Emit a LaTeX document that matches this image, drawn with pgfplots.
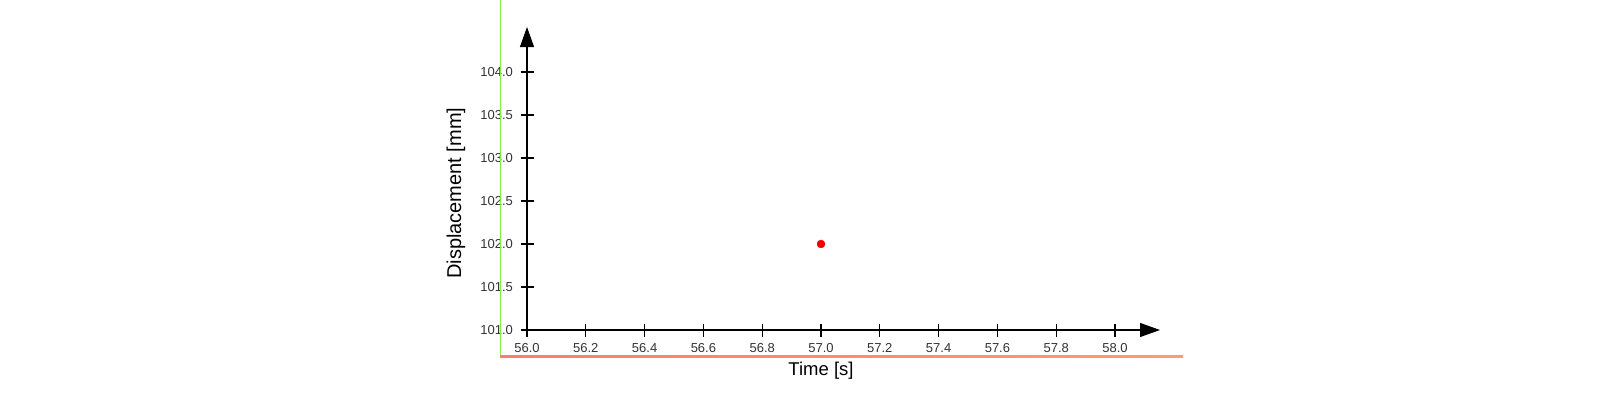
\documentclass[border=0pt]{standalone}
\usepackage{fontspec}
\setmainfont{Liberation Sans}
\usepackage{pgfplots}
\pgfplotsset{compat=1.18}
\usetikzlibrary{arrows.meta}
\definecolor{frameGreen}{RGB}{128,240,64}
\definecolor{frameRed}{RGB}{255,125,105}
\definecolor{frameOrange}{RGB}{255,155,115}
\definecolor{labGray}{RGB}{51,51,51}
\definecolor{ptRed}{RGB}{245,0,0}

\begin{document}
\begin{tikzpicture}
\useasboundingbox (0,0) rectangle (1600pt,400pt);
\begin{axis}[
  at={(527pt,70pt)}, anchor=south west,
  scale only axis, width=633pt, height=303pt,
  xmin=56, xmax=58.153, ymin=101, ymax=104.523,
  axis lines=left,
  axis line style={line width=1.1pt, black, -{Triangle[length=20pt,width=14pt]}},
  xtick={56.0,56.2,56.4,56.6,56.8,57.0,57.2,57.4,57.6,57.8,58.0},
  ytick={101.0,101.5,102.0,102.5,103.0,103.5,104.0},
  tick align=center, major tick length=13pt,
  tick style={line width=1.1pt, black},
  /pgf/number format/.cd, fixed, fixed zerofill, precision=1, assume math mode=true,
  /pgfplots/.cd,
  tick label style={font=\fontsize{13}{15}\selectfont, text=labGray},
  xticklabel style={anchor=north, yshift=-3pt, text height=9.5pt, text depth=0pt},
  yticklabel style={anchor=east, xshift=-4pt},
  xlabel={Time [s]}, ylabel={Displacement [mm]},
  xlabel style={at={(axis cs:57.0,100.527)}, anchor=center, font=\fontsize{18.5}{20}\selectfont},
  ylabel style={at={(axis cs:55.7585,102.59)}, anchor=center, rotate=0, font=\fontsize{20}{22}\selectfont},
  clip=false,
]
\addplot[only marks, mark=*, mark size=4pt, ptRed, mark options={draw=ptRed, fill=ptRed}] coordinates {(57.0,102.0)};
\end{axis}
\draw[frameGreen, line width=1.5pt] (500.7pt,400pt) -- (500.7pt,43.3pt);
\shade[left color=frameRed, right color=frameOrange] (500pt,42.6pt) rectangle (1183pt,44.1pt);
\end{tikzpicture}
\end{document}
